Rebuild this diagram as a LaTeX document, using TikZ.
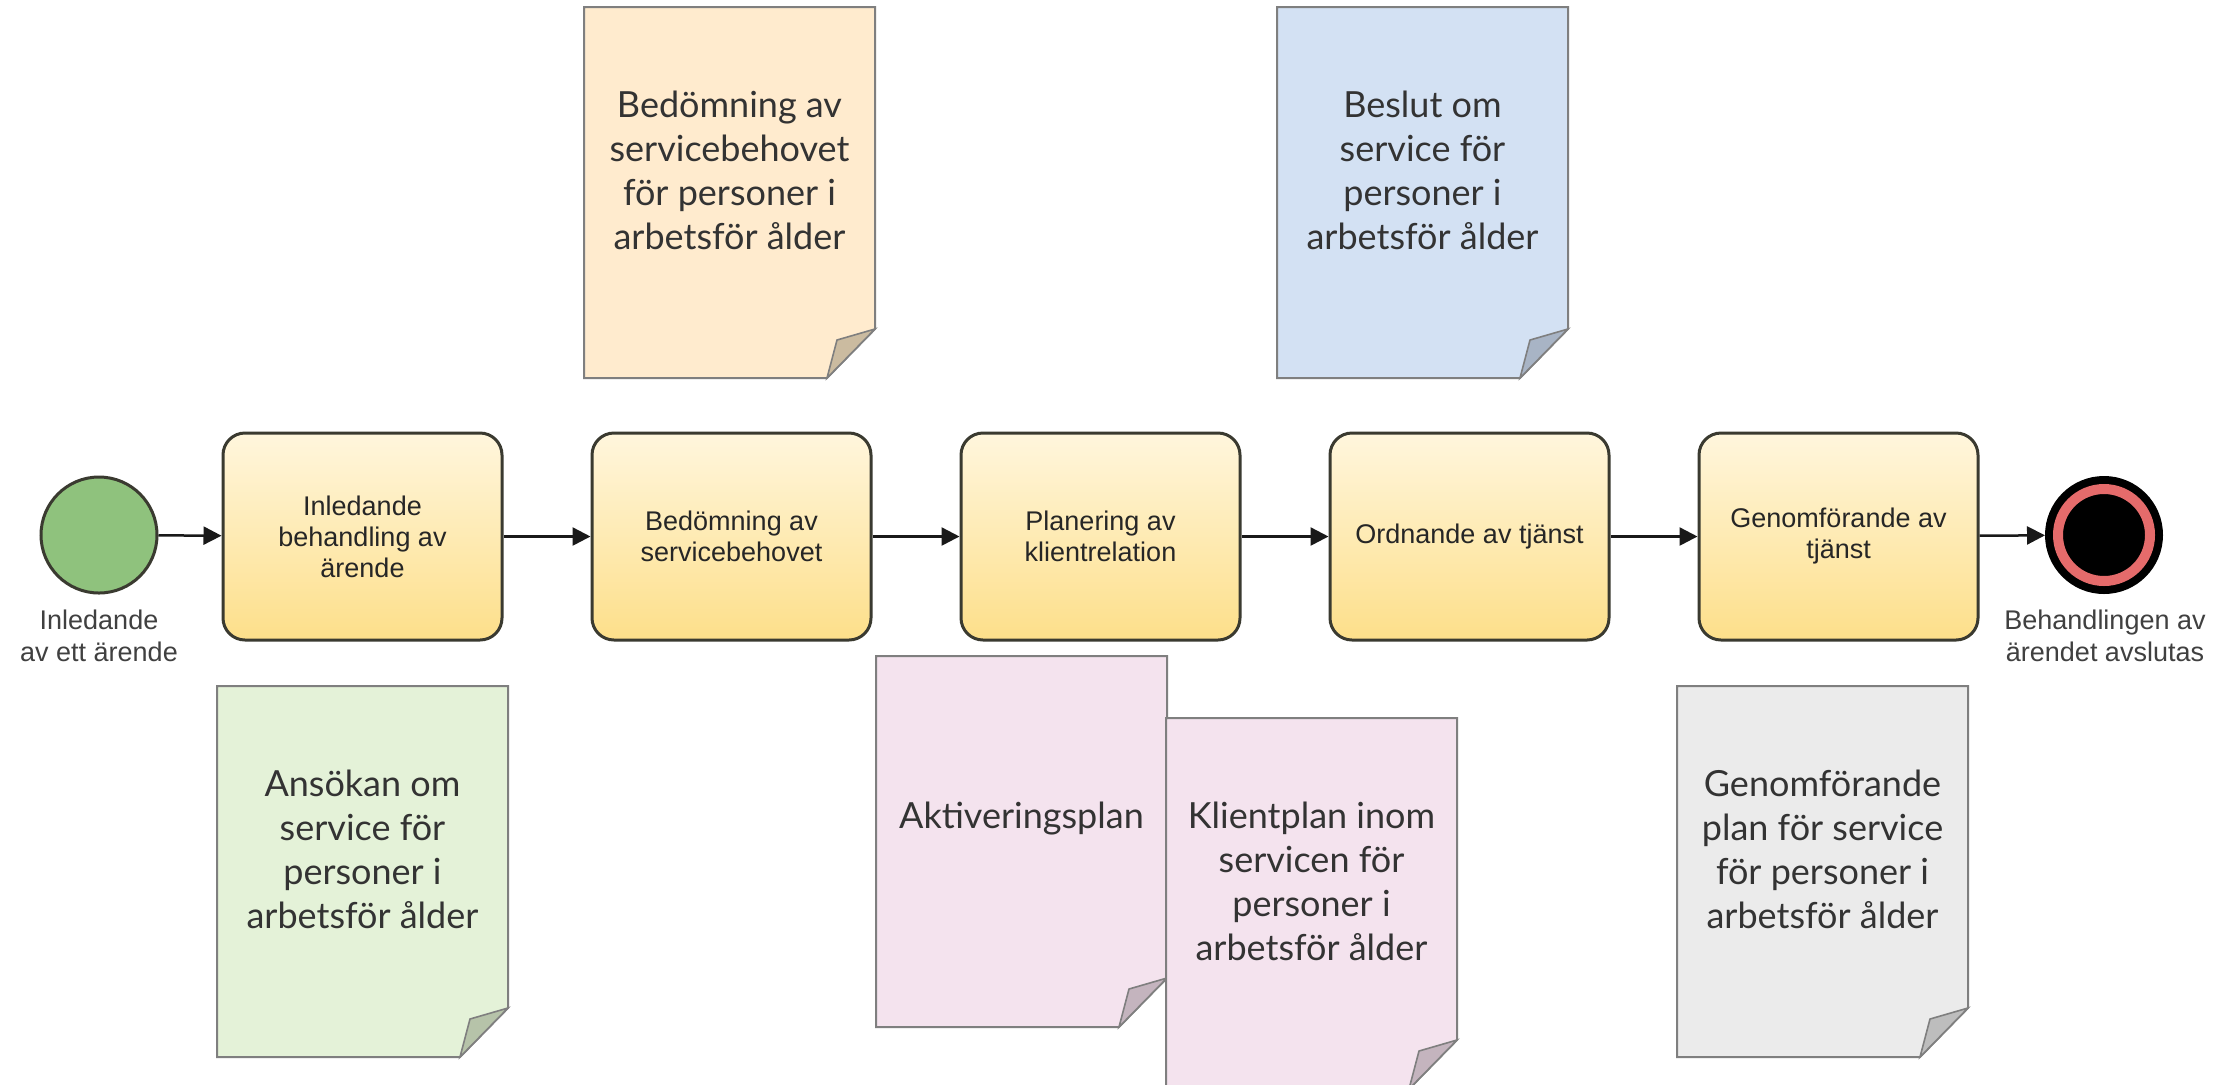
\documentclass[tikz,border=0pt]{standalone}
\usepackage{fontspec}
\setmainfont{Lato}
\newfontfamily\arialf{Liberation Sans}
\usetikzlibrary{arrows.meta}
\definecolor{docline}{HTML}{7F7F7F}
\definecolor{doctxt}{HTML}{333333}
\definecolor{orfill}{HTML}{FFEBCE}
\definecolor{orfold}{HTML}{CBBBA0}
\definecolor{blfill}{HTML}{D3E1F3}
\definecolor{blfold}{HTML}{A8B4C5}
\definecolor{grfill}{HTML}{E4F2D8}
\definecolor{grfold}{HTML}{B6C3A9}
\definecolor{gyfill}{HTML}{EBEBEB}
\definecolor{gyfold}{HTML}{BDBDBD}
\definecolor{pkfill}{HTML}{F4E3EE}
\definecolor{pkfold}{HTML}{C4B4BE}
\definecolor{tasktop}{HTML}{FFF6DD}
\definecolor{taskbot}{HTML}{FDDF8A}
\definecolor{taskline}{HTML}{3A3A30}
\definecolor{startgreen}{HTML}{8FC27D}
\definecolor{endred}{HTML}{E56B6B}
\tikzset{
  task/.style={rounded corners=11pt, draw=taskline, line width=1.5pt,
    top color=tasktop, bottom color=taskbot, minimum width=139.5pt,
    minimum height=103.5pt, align=center, text=black!85,
    font=\arialf\fontsize{13.5}{15.5}\selectfont},
  startev/.style={circle, draw=taskline, line width=1.5pt, fill=startgreen,
    minimum size=58pt, inner sep=0pt},
  endev/.style={circle, draw=black, line width=4pt, fill=black,
    minimum size=55pt, inner sep=0pt},
  evlabel/.style={align=center, text=black!75, inner sep=0pt,
    font=\arialf\fontsize{13.5}{16}\selectfont},
  doctext/.style={align=center, text=doctxt, inner sep=0pt,
    font=\fontsize{18}{22}\selectfont},
  flow/.style={draw=black!90, line width=1.25pt,
    -{Triangle[length=9pt,width=9pt]}}
}
\newcommand\docshape[6]{%
  \filldraw[fill=#4, draw=docline, line width=1pt]
    (#2,#3) -- ++(291,0) -- ++(0,322) -- ++(-48,49) -- ++(-243,0) -- cycle;
  \filldraw[fill=#5, draw=docline, line width=0.8pt]
    ({#2+291},{#3+322}) -- ({#2+253},{#3+333}) -- ({#2+243},{#3+371}) -- cycle;
  \node[doctext] (#1) at ({#2+145.5},{#3+163}) {#6};
}
\begin{document}
\begin{tikzpicture}[x=0.5pt,y=-0.5pt]
\useasboundingbox[fill=white] (0,0) rectangle (2229,1084);
% documents
\docshape{dA}{584}{7}{orfill}{orfold}{Bedömning av\\servicebehovet\\för personer i\\arbetsför ålder}
\docshape{dB}{1277}{7}{blfill}{blfold}{Beslut om\\service för\\personer i\\arbetsför ålder}
\docshape{dC}{217}{686}{grfill}{grfold}{Ansökan om\\service för\\personer i\\arbetsför ålder}
\docshape{dD}{876}{656}{pkfill}{pkfold}{Aktiveringsplan}
\docshape{dE}{1166}{718}{pkfill}{pkfold}{Klientplan inom\\servicen för\\personer i\\arbetsför ålder}
\docshape{dF}{1677}{686}{gyfill}{gyfold}{Genomförande\\plan för service\\för personer i\\arbetsför ålder}
% events
\node[startev] (start) at (99,535) {};
\node[endev] (end) at (2104,535) {};
\draw[endred, line width=5pt] (end.center) circle[radius=23pt];
\node[evlabel] (startlbl) at (99,636) {Inledande\\av ett ärende};
\node[evlabel] (endlbl) at (2105,636) {Behandlingen av\\ärendet avslutas};
% tasks
\node[task] (t1) at (362.5,536.5) {Inledande\\behandling av\\ärende};
\node[task] (t2) at (731.5,536.5) {Bedömning av\\servicebehovet};
\node[task] (t3) at (1100.5,536.5) {Planering av\\klientrelation};
\node[task] (t4) at (1469.5,536.5) {Ordnande av tjänst};
\node[task] (t5) at (1838.5,536.5) {Genomförande av\\tjänst};
% flows
\draw[flow] (start) -- (t1);
\draw[flow] (t1) -- (t2);
\draw[flow] (t2) -- (t3);
\draw[flow] (t3) -- (t4);
\draw[flow] (t4) -- (t5);
\draw[flow] (t5) -- (end);
\end{tikzpicture}
\end{document}
